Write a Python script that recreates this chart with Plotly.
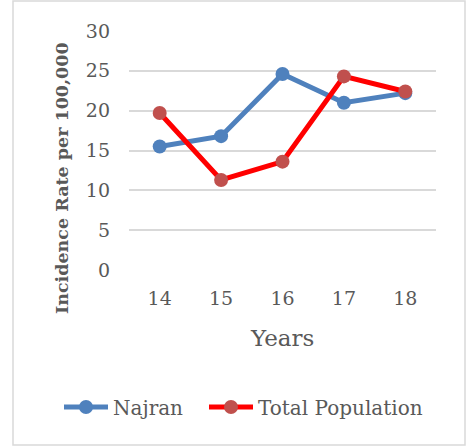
import plotly.graph_objects as go

years = ["14", "15", "16", "17", "18"]
najran = [15.5, 16.8, 24.6, 21.0, 22.2]
total_population = [19.7, 11.3, 13.6, 24.3, 22.4]

FONT = "DejaVu Serif"
GREY = "#595959"

fig = go.Figure()
fig.add_trace(go.Scatter(
    x=years, y=najran, name="Najran", mode="lines+markers",
    line=dict(color="#4F81BD", width=5),
    marker=dict(color="#4F81BD", size=14),
    legend="legend",
))
fig.add_trace(go.Scatter(
    x=years, y=total_population, name="Total Population", mode="lines+markers",
    line=dict(color="#FF0000", width=5),
    marker=dict(color="#C0504D", size=14),
    legend="legend2",
))

L, R, T, B = 129, 33, 31, 176
W, H = 469, 446
pw, ph = W - L - R, H - T - B

def px(x):
    return (x - L) / pw

def py(y):
    return (H - B - y) / ph

legend_style = dict(orientation="h", xanchor="left", yanchor="middle",
                    font=dict(family=FONT, size=20, color=GREY), itemwidth=44,
                    bgcolor="rgba(0,0,0,0)")

fig.update_layout(
    width=W, height=H,
    margin=dict(l=L, r=R, t=T, b=B, autoexpand=False),
    paper_bgcolor="white", plot_bgcolor="white",
    font=dict(family=FONT, color=GREY, size=18),
    showlegend=True,
    legend=dict(x=px(59), y=py(407), **legend_style),
    legend2=dict(x=px(204), y=py(407), **legend_style),
    xaxis=dict(type="category", range=[-0.5, 4.5], showgrid=False, showline=False,
               ticks="", tickfont=dict(family=FONT, size=19, color=GREY), zeroline=False,
               ticklabelstandoff=15),
    yaxis=dict(range=[0, 30], dtick=5, showgrid=True, gridcolor="#D9D9D9", gridwidth=1.5,
               zeroline=False, showline=False, ticks="",
               tickfont=dict(family=FONT, size=19, color=GREY), ticklabelstandoff=18),
    shapes=[dict(type="rect", xref="paper", yref="paper",
                 x0=px(13), x1=px(465), y0=py(445), y1=py(1),
                 line=dict(color="#D9D9D9", width=1.5), fillcolor="rgba(0,0,0,0)", layer="below")],
    annotations=[
        dict(text="Years", xref="paper", yref="paper", x=px(282), y=py(338),
             showarrow=False, xanchor="center", yanchor="middle",
             font=dict(family=FONT, size=23, color=GREY)),
        dict(text="<b>Incidence Rate per 100,000</b>", xref="paper", yref="paper",
             x=px(62), y=py(178), textangle=-90, showarrow=False,
             xanchor="center", yanchor="middle",
             font=dict(family=FONT, size=17.5, color=GREY)),
    ],
)

fig.write_html("out.html", config={"displayModeBar": False},
               post_script="document.body.style.margin='0';document.body.style.overflow='hidden';")
